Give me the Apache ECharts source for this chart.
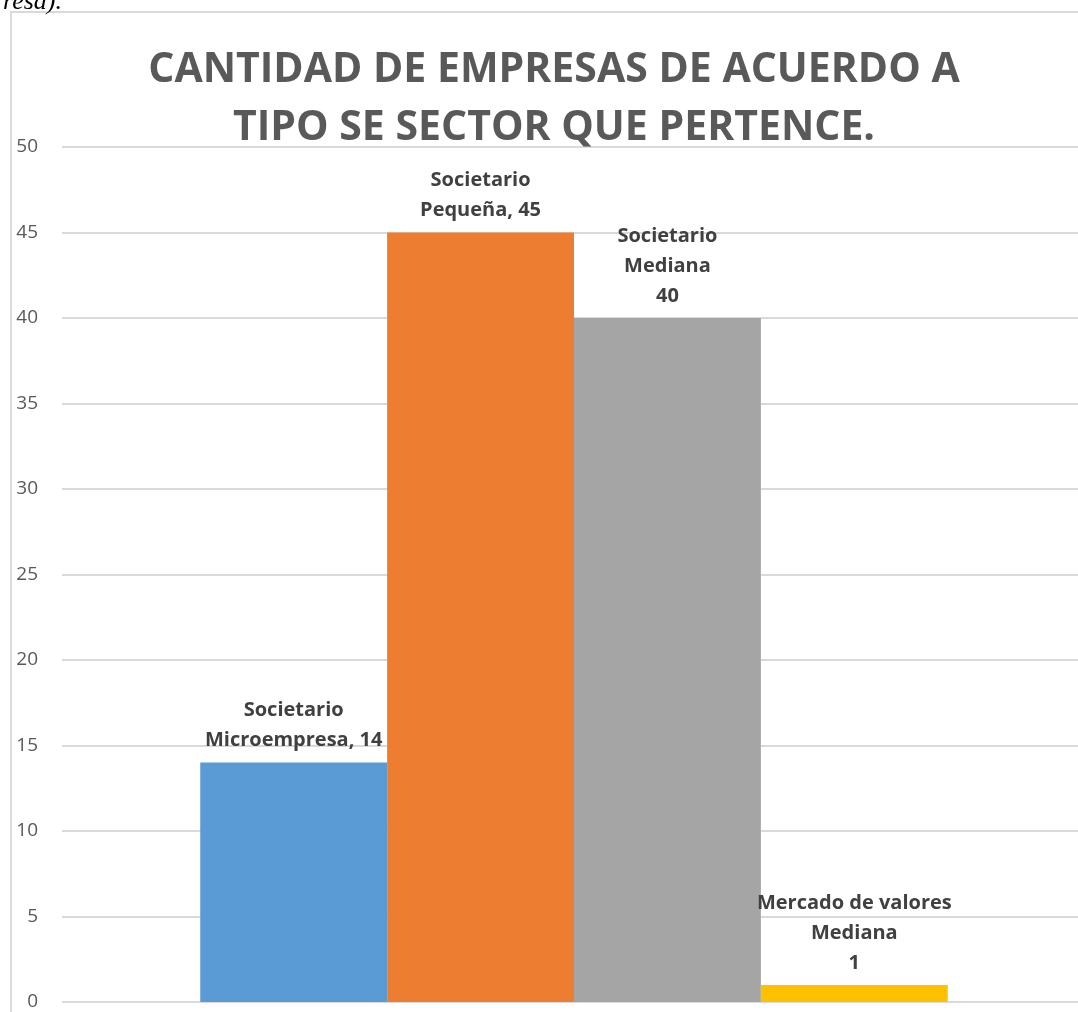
<!DOCTYPE html>
<html>
<head>
<meta charset="utf-8">
<title>Cantidad de empresas por sector</title>
<script src="https://cdn.jsdelivr.net/npm/echarts@6/dist/echarts.min.js"></script>
<style>
  html, body { margin: 0; padding: 0; background: #ffffff; overflow: hidden; }
  #chart { width: 1090px; height: 1012px; }
</style>
</head>
<body>
<div id="chart"></div>
<script>
// Chart data
const categories = ['Empresas'];
const seriesNames = ['Societario Microempresa', 'Societario Pequeña', 'Societario Mediana', 'Mercado de valores Mediana'];
const seriesValues = [14, 45, 40, 1];
const labelLines = [
  ['Societario', 'Microempresa, 14'],
  ['Societario', 'Pequeña, 45'],
  ['Societario', 'Mediana', '40'],
  ['Mercado de valores', 'Mediana', '1']
];
const yTicks = [0, 5, 10, 15, 20, 25, 30, 35, 40, 45, 50];
const colors = ['#5B9BD5', '#ED7D31', '#A5A5A5', '#FFC000'];

const FONT = '"Open Sans", "Noto Sans", sans-serif';

const chart = echarts.init(document.getElementById('chart'), null, { renderer: 'canvas' });

const series = seriesNames.map((name, i) => ({
  name: name,
  type: 'bar',
  data: [seriesValues[i]],
  barGap: '0%',
  barCategoryGap: '27%',
  itemStyle: { color: colors[i] },
  label: {
    show: true,
    position: 'top',
    distance: 7,
    formatter: () => labelLines[i].join('\n'),
    fontFamily: FONT,
    fontWeight: 'bold',
    fontSize: 20,
    lineHeight: 30,
    color: '#404040',
    align: 'center'
  }
}));

chart.setOption({
  backgroundColor: '#ffffff',
  animation: false,
  title: {
    text: 'CANTIDAD DE EMPRESAS DE ACUERDO A\nTIPO SE SECTOR QUE PERTENCE.',
    left: 549,
    top: 36,
    textAlign: 'center',
    textStyle: {
      fontFamily: FONT,
      fontWeight: 'bold',
      fontSize: 41,
      lineHeight: 58,
      color: '#595959'
    }
  },
  grid: { left: 62, top: 147, width: 1024, height: 855, containLabel: false },
  xAxis: {
    type: 'category',
    data: categories,
    axisLine: { show: false },
    axisTick: { show: false },
    axisLabel: { show: false }
  },
  yAxis: {
    type: 'value',
    min: yTicks[0],
    max: yTicks[yTicks.length - 1],
    interval: 5,
    axisLine: { show: false },
    axisTick: { show: false },
    axisLabel: {
      margin: 24,
      fontFamily: FONT,
      fontSize: 19,
      color: '#595959'
    },
    splitLine: { lineStyle: { color: '#D9D9D9', width: 2 } }
  },
  graphic: [
    {
      type: 'rect',
      shape: { x: 11, y: 12, width: 1100, height: 1100 },
      style: { fill: 'none', stroke: '#D9D9D9', lineWidth: 2 },
      silent: true,
      z: -1
    },
    {
      type: 'text',
      left: 3,
      top: -11,
      style: {
        text: 'resa).',
        font: 'italic 26px "Liberation Serif", "DejaVu Serif", serif',
        fill: '#000000'
      },
      silent: true
    }
  ],
  series: series
});
</script>
</body>
</html>
